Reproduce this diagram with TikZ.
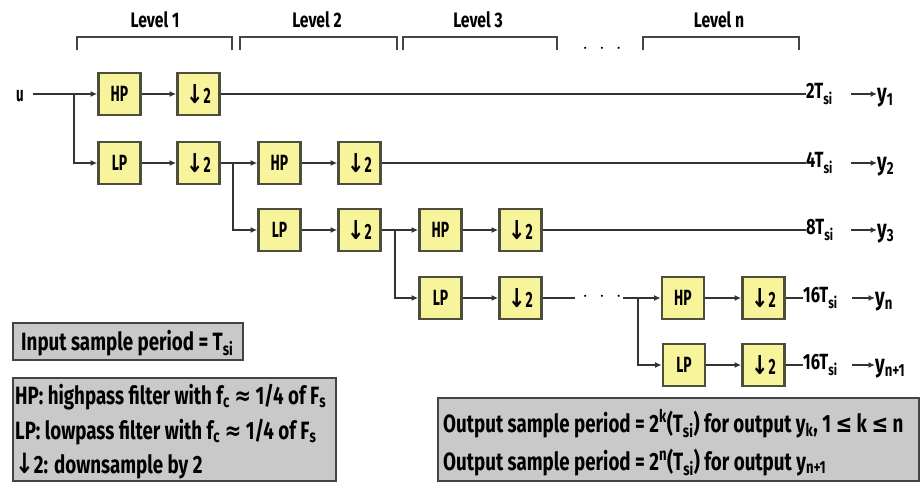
\documentclass[tikz,border=0pt]{standalone}
\usepackage{fontspec}
\setmainfont[FakeStretch=0.63]{Fira Sans}
\newfontfamily\legA[FakeStretch=0.75]{Fira Sans}
\newfontfamily\symf[FakeStretch=0.8]{DejaVu Sans}
\usetikzlibrary{arrows.meta,calc}
\definecolor{boxfill}{HTML}{F8F49C}
\definecolor{boxline}{HTML}{4E4E3C}
\definecolor{wire}{HTML}{333333}
\definecolor{legfill}{HTML}{C9C9C9}
\definecolor{legline}{HTML}{444444}
\newcommand{\threedots}{$\cdot$\hspace{11pt}$\cdot$\hspace{11pt}$\cdot$}
\newcommand{\dn}{{\symf\bfseries\fontsize{26}{26}\selectfont ↓}}
\newcommand{\dnl}{{\symf\bfseries\fontsize{28}{28}\selectfont ↓}}
\newcommand{\apx}{{\symf\bfseries ≈}}
\newcommand{\lte}{{\symf\bfseries ≤}}
\begin{document}
\begin{tikzpicture}[x=1pt,y=-1pt,
  blk/.style={draw=boxline, line width=2.8pt, fill=boxfill, minimum width=42pt, minimum height=42pt, inner sep=0pt, font=\bfseries\fontsize{22}{22}\selectfont},
  wireline/.style={draw=wire, line width=2.3pt},
  arr/.style={wireline, -{Latex[length=6.5pt,width=6pt]}},
  brk/.style={draw=legline, line width=2.6pt},
  lvl/.style={font=\legA\bfseries\fontsize{21}{21}\selectfont, inner sep=0pt},
  outlbl/.style={font=\legA\bfseries\fontsize{22}{22}\selectfont, inner sep=0pt, anchor=west},
  ylbl/.style={font=\legA\bfseries\fontsize{25}{25}\selectfont, inner sep=0pt, anchor=west},
  legbox/.style={draw=legline, line width=2.4pt, fill=legfill, inner sep=0pt, anchor=north west},
  legtxt/.style={inner sep=0pt, anchor=base west, font=\legA\bfseries\fontsize{25}{25}\selectfont}
]
\useasboundingbox (0,0) rectangle (922,482);

% level labels and brackets
\node[lvl] (L1) at (155,20) {Level 1};
\node[lvl] (L2) at (317,20) {Level 2};
\node[lvl] (L3) at (478,20) {Level 3};
\node[lvl] (Ln) at (719,20) {Level n};
\draw[brk] (77,50) -- (77,37) -- (232,37) -- (232,50);
\draw[brk] (240,50) -- (240,37) -- (397,37) -- (397,50);
\draw[brk] (403,50) -- (403,37) -- (557,37) -- (557,50);
\draw[brk] (643,50) -- (643,37) -- (799,37) -- (799,50);
\node[lvl] (ldots) at (602,49) {\threedots};

% blocks
\node[blk] (hp1) at (119.5,94) {HP};
\node[blk] (ds1) at (198.5,94) {\dn2};
\node[blk] (lp1) at (119.5,163) {LP};
\node[blk] (ds1b) at (198.5,163) {\dn2};
\node[blk] (hp2) at (279.5,163) {HP};
\node[blk] (ds2) at (359.5,163) {\dn2};
\node[blk] (lp2) at (279.5,230) {LP};
\node[blk] (ds2b) at (359.5,230) {\dn2};
\node[blk] (hp3) at (440.5,230) {HP};
\node[blk] (ds3) at (520.5,230) {\dn2};
\node[blk] (lp3) at (440.5,298) {LP};
\node[blk] (ds3b) at (520.5,298) {\dn2};
\node[blk] (hpn) at (683,298) {HP};
\node[blk] (dsn) at (763.5,298) {\dn2};
\node[blk] (lpn) at (684,365) {LP};
\node[blk] (dsnb) at (763.5,365) {\dn2};

% input
\node[font=\bfseries\fontsize{21}{21}\selectfont, inner sep=0pt] (u) at (20,96) {u};
\coordinate (s1) at (74,94);
\draw[wireline] (33,94) -- (s1);
\draw[arr] (s1) -- (hp1);
\draw[arr] (s1) |- (lp1);
\draw[arr] (hp1) -- (ds1);
\draw[arr] (lp1) -- (ds1b);

\coordinate (s2) at (233,163);
\draw[wireline] (ds1b) -- (s2);
\draw[arr] (s2) -- (hp2);
\draw[arr] (s2) |- (lp2);
\draw[arr] (hp2) -- (ds2);
\draw[arr] (lp2) -- (ds2b);

\coordinate (s3) at (395,230);
\draw[wireline] (ds2b) -- (s3);
\draw[arr] (s3) -- (hp3);
\draw[arr] (s3) |- (lp3);
\draw[arr] (hp3) -- (ds3);
\draw[arr] (lp3) -- (ds3b);

\coordinate (d1) at (575,298);
\coordinate (d2) at (623,298);
\draw[wireline] (ds3b) -- (d1);
\node[inner sep=0pt, font=\fontsize{20}{20}\selectfont] (rdots) at (602,297) {\threedots};
\coordinate (s4) at (638,298);
\draw[wireline] (d2) -- (s4);
\draw[arr] (s4) -- (hpn);
\draw[arr] (s4) |- (lpn);
\draw[arr] (hpn) -- (dsn);
\draw[arr] (lpn) -- (dsnb);

% outputs
\node[outlbl] (o1) at (806,94) {2T\textsubscript{si}};
\node[outlbl] (o2) at (806,163) {4T\textsubscript{si}};
\node[outlbl] (o3) at (806,230) {8T\textsubscript{si}};
\node[outlbl] (o4) at (803,298) {16T\textsubscript{si}};
\node[outlbl] (o5) at (803,365) {16T\textsubscript{si}};
\draw[wireline] (ds1) -- (o1);
\draw[wireline] (ds2) -- (o2);
\draw[wireline] (ds3) -- (o3);
\draw[wireline] (dsn) -- (o4);
\draw[wireline] (dsnb) -- (o5);

\node[ylbl] (y1) at (877,98) {y\textsubscript{1}};
\node[ylbl] (y2) at (877,167) {y\textsubscript{2}};
\node[ylbl] (y3) at (877,234) {y\textsubscript{3}};
\node[ylbl] (yn) at (875,302) {y\textsubscript{n}};
\node[ylbl] (yn1) at (875,369) {y\textsubscript{n+1}};
\coordinate (a1) at (851,94);
\coordinate (a2) at (851,163);
\coordinate (a3) at (851,230);
\coordinate (a4) at (852,298);
\coordinate (a5) at (852,365);
\draw[arr] (a1) -- (y1.west |- a1);
\draw[arr] (a2) -- (y2.west |- a2);
\draw[arr] (a3) -- (y3.west |- a3);
\draw[arr] (a4) -- (yn.west |- a4);
\draw[arr] (a5) -- (yn1.west |- a5);

% legends
\node[legbox, minimum width=230pt, minimum height=37pt] (leg1) at (12,322) {};
\node[legtxt] (t11) at (21,350) {Input sample period = T\textsubscript{si}};
\node[legbox, minimum width=323pt, minimum height=103pt] (leg2) at (12,377) {};
\node[legtxt] (t21) at (15,404) {HP: highpass filter with f\textsubscript{c} \apx{} 1/4 of F\textsubscript{s}};
\node[legtxt] (t22) at (15,439) {LP: lowpass filter with f\textsubscript{c} \apx{} 1/4 of F\textsubscript{s}};
\node[legtxt] (t23) at (15,473) {\dnl2: downsample by 2};
\node[legbox, minimum width=481pt, minimum height=83pt] (leg3) at (437,397) {};
\node[legtxt] (t31) at (443,432) {Output sample period = 2\textsuperscript{k}(T\textsubscript{si}) for output y\textsubscript{k}, 1 \lte{} k \lte{} n};
\node[legtxt] (t32) at (443,470) {Output sample period = 2\textsuperscript{n}(T\textsubscript{si}) for output y\textsubscript{n+1}};
\end{tikzpicture}
\end{document}
